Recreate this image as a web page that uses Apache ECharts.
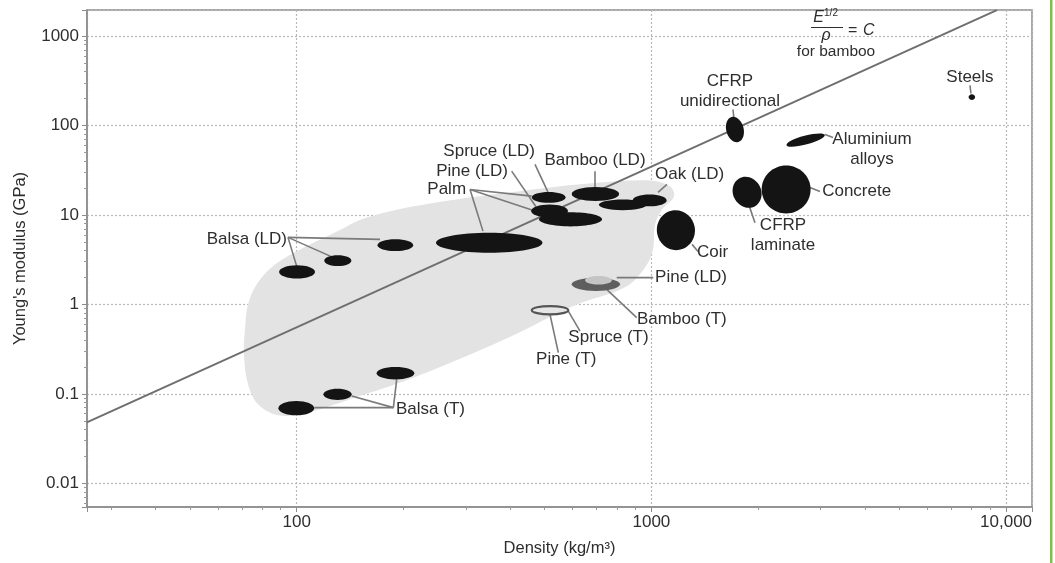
<!DOCTYPE html>
<html><head><meta charset="utf-8">
<script src="https://cdn.jsdelivr.net/npm/echarts@6/dist/echarts.min.js"></script>
<style>html,body{margin:0;padding:0;background:#fff}#c{width:1055px;height:563px}</style>
</head><body><div id="c"></div>
<script>
// ---------- data ----------
const materials = ['Balsa (LD) 1','Balsa (LD) 2','Balsa (LD) 3','Palm 1','Spruce (LD)','Pine (LD)','Palm 2','Bamboo (LD)','Oak','Oak (LD)','Coir','CFRP unidirectional','Aluminium alloys','CFRP laminate','Concrete','Steels','Bamboo (T)','Pine (LD) lower','Spruce (T)','Balsa (T) 1','Balsa (T) 2','Balsa (T) 3'];
const densityLow  = [89.2, 119.6, 169, 247, 460, 458, 482, 596, 711, 885, 1036, 1622, 2404, 1694, 2046, 7840, 596, 650, 460, 88.8, 118.9, 168];
const densityHigh = [112.6, 142.6, 213, 493, 573, 582, 726, 811, 970, 1104, 1327, 1824, 3083, 2046, 2811, 8180, 816, 774, 583, 112, 142.9, 214.6];
const modulusLow  = [1.95, 2.68, 3.94, 3.78, 13.7, 9.38, 7.44, 14.3, 11.3, 12.5, 4.04, 65, 57.8, 12.0, 10.4, 192, 1.41, 1.67, 0.773, 0.0575, 0.0853, 0.145];
const modulusHigh = [2.73, 3.53, 5.33, 6.33, 18.0, 13.1, 10.7, 20.5, 14.9, 16.9, 11.3, 125, 81.4, 26.7, 35.7, 224, 1.99, 2.08, 0.957, 0.083, 0.114, 0.199];

const envelopeDensity = [71.5, 72.9, 77.8, 86.9, 102.2, 126.6, 157.8, 237.6, 463.8, 716.3, 991.1, 1128.5, 1158.2, 1071.5, 1023.8, 1010.5, 959.4, 842.6, 609, 386.6, 218.4, 141.4, 105.5, 88.6, 77.8, 72.9, 71.0];
const envelopeModulus = [0.526, 1.0, 1.762, 2.799, 4.117, 6.213, 9.378, 13.44, 19.27, 23.07, 24.29, 20.82, 16.1, 11.52, 7.832, 4.117, 2.591, 1.549, 0.9745, 0.4064, 0.1568, 0.0868, 0.0605, 0.0575, 0.0763, 0.1277, 0.2763];

const guideDensity = [25.6, 9420];
const guideModulus = [0.048, 1950];

const xTicks = [100, 1000, 10000];
const xTickLabels = ['100', '1000', '10,000'];
const yTicks = [0.01, 0.1, 1, 10, 100, 1000];
const yTickLabels = ['0.01', '0.1', '1', '10', '100', '1000'];

const labelTexts = ['Balsa (LD)', 'Palm', 'Pine (LD)', 'Spruce (LD)', 'Bamboo (LD)', 'Oak (LD)', 'CFRP\nunidirectional', 'Steels', 'Aluminium\nalloys', 'Concrete', 'CFRP\nlaminate', 'Coir', 'Pine (LD)', 'Bamboo (T)', 'Spruce (T)', 'Pine (T)', 'Balsa (T)'];
const labelDensity = [93.9, 300.2, 394.2, 469.7, 693.4, 1024.5, 1665.6, 7911, 4188, 3030, 2350, 1345, 1024.5, 910.8, 583.3, 472.9, 190.5];
const labelModulus = [5.324, 19.27, 30.62, 51.23, 40.6, 28.35, 239.1, 343.8, 54.0, 18.3, 5.976, 3.81, 2.003, 0.68, 0.428, 0.2429, 0.0671];

const leaders = [
  [94.5, 5.608, 100.2, 2.591], [94.5, 5.608, 126.6, 3.351], [94.5, 5.608, 171.7, 5.324],
  [308.1, 19.27, 335.1, 6.59], [308.1, 19.27, 459.7, 16.22], [308.1, 19.27, 469.7, 11.03],
  [403.7, 30.86, 474.9, 12.03], [469.7, 36.66, 511, 17.98], [693.4, 30.86, 693.4, 20.29],
  [1106.6, 21.92, 1043.8, 17.84], [1698.7, 150.9, 1709.7, 116.7], [7911, 279.9, 7962, 227.8],
  [3087, 79.3, 3251, 73.4], [2799, 20.29, 2988, 18.3], [1888, 12.54, 1959, 8.18],
  [1302, 4.683, 1353.6, 3.91], [798.5, 1.988, 1012.5, 1.988], [748.2, 1.471, 909, 0.7101],
  [583.1, 0.8416, 629.2, 0.503], [517.7, 0.7732, 546.6, 0.2886],
  [187.3, 0.0701, 191.4, 0.1452], [187.3, 0.0701, 142.9, 0.0945], [187.3, 0.0701, 112.1, 0.0701]
];

const formulaAnchor = [3148, 1245];

// ---------- styles ----------
const FONT = '"Liberation Sans", Arial, Helvetica, sans-serif';
const TXT = '#2e2e2e';
const tilt = { 'Coir': 10, 'CFRP unidirectional': 15, 'Aluminium alloys': 15, 'CFRP laminate': 30 };
const shapeStyle = {
  'Bamboo (T)': { fill: '#5e5e5e' },
  'Pine (LD) lower': { fill: '#c4c4c4' },
  'Spruce (T)': { fill: '#e6e6e6', stroke: '#555', lineWidth: 2.2 }
};
const labelAlign = ['right','right','right','right','center','left','center','center','center','left','center','left','left','left','left','left','left'];

function findLabel(v, ticks, labels) {
  for (let i = 0; i < ticks.length; i++) {
    if (Math.abs(Math.log10(v) - Math.log10(ticks[i])) < 1e-6) return labels[i];
  }
  return '';
}

const chart = echarts.init(document.getElementById('c'), null, { renderer: 'canvas' });

const ellipseData = materials.map((m, i) => [densityLow[i], densityHigh[i], modulusLow[i], modulusHigh[i]]);

const option = {
  animation: false,
  backgroundColor: '#fff',
  grid: { left: 87, right: 23, top: 10, bottom: 56, show: true, borderColor: '#8c8c8c', borderWidth: 1.5, containLabel: false },
  xAxis: {
    type: 'log', logBase: 10, min: 25.63, max: 11833,
    name: 'Density (kg/m³)', nameLocation: 'middle', nameGap: 33,
    nameTextStyle: { fontFamily: FONT, fontSize: 16.5, color: TXT },
    axisLine: { show: true, lineStyle: { color: '#8c8c8c', width: 1.5 } },
    axisTick: { show: true, length: 5, inside: false, lineStyle: { color: '#8c8c8c' } },
    minorTick: { show: true, splitNumber: 9, length: 3, lineStyle: { color: '#999' } },
    axisLabel: { fontFamily: FONT, fontSize: 17, color: TXT, margin: 7, showMinLabel: false, showMaxLabel: false,
      formatter: v => findLabel(v, xTicks, xTickLabels) },
    splitLine: { show: true, lineStyle: { type: [2, 2], color: '#b8b8b8', width: 1.2 } }
  },
  yAxis: {
    type: 'log', logBase: 10, min: 0.00543, max: 1953,
    name: "Young's modulus (GPa)", nameLocation: 'middle', nameGap: 58,
    nameTextStyle: { fontFamily: FONT, fontSize: 16.5, color: TXT },
    axisLine: { show: true, lineStyle: { color: '#8c8c8c', width: 1.5 } },
    axisTick: { show: true, length: 5, inside: false, lineStyle: { color: '#8c8c8c' } },
    minorTick: { show: true, splitNumber: 9, length: 3, lineStyle: { color: '#999' } },
    axisLabel: { fontFamily: FONT, fontSize: 17, color: TXT, margin: 8, showMinLabel: false, showMaxLabel: false,
      formatter: v => findLabel(v, yTicks, yTickLabels) },
    splitLine: { show: true, lineStyle: { type: [2, 2], color: '#b8b8b8', width: 1.2 } }
  },
  graphic: [
    { type: 'rect', left: 1050, top: 0, shape: { width: 2.5, height: 563 }, style: { fill: '#7dc242' }, silent: true }
  ],
  series: [
    { // wood envelope
      type: 'custom', z: 1, silent: true,
      data: envelopeDensity.map((d, i) => [d, envelopeModulus[i]]),
      renderItem: function (params, api) {
        if (params.dataIndex !== 0) return null;
        const pts = envelopeDensity.map((d, i) => api.coord([d, envelopeModulus[i]]));
        return { type: 'polygon', shape: { points: pts, smooth: 0.35 }, style: { fill: '#e3e3e3' } };
      }
    },
    { // E^1/2 / rho = C line
      type: 'line', z: 2, symbol: 'none', silent: true,
      data: guideDensity.map((d, i) => [d, guideModulus[i]]),
      lineStyle: { color: '#6f6f6f', width: 2 }
    },
    { // leader lines
      type: 'custom', z: 3, silent: true,
      data: leaders,
      renderItem: function (params, api) {
        const a = api.coord([api.value(0), api.value(1)]);
        const b = api.coord([api.value(2), api.value(3)]);
        return { type: 'line', shape: { x1: a[0], y1: a[1], x2: b[0], y2: b[1] }, style: { stroke: '#7a7a7a', lineWidth: 1.6 } };
      }
    },
    { // material ellipses
      type: 'custom', z: 4, silent: true,
      data: ellipseData,
      renderItem: function (params, api) {
        const i = params.dataIndex;
        const p0 = api.coord([api.value(0), api.value(2)]);
        const p1 = api.coord([api.value(1), api.value(3)]);
        const cx = (p0[0] + p1[0]) / 2, cy = (p0[1] + p1[1]) / 2;
        const hw = Math.abs(p1[0] - p0[0]) / 2, hh = Math.abs(p1[1] - p0[1]) / 2;
        const name = materials[i];
        const t = (tilt[name] || 0) * Math.PI / 180;
        let a = hw, b = hh;
        if (t) {
          const c = Math.cos(t) ** 2, s = Math.sin(t) ** 2, d = c - s;
          a = Math.sqrt(Math.max((hw * hw * c - hh * hh * s) / d, 2));
          b = Math.sqrt(Math.max((hh * hh * c - hw * hw * s) / d, 2));
        }
        const st = shapeStyle[name] || {};
        return {
          type: 'ellipse', x: cx, y: cy, rotation: t,
          shape: { cx: 0, cy: 0, rx: a, ry: b },
          style: { fill: st.fill || '#141414', stroke: st.stroke || null, lineWidth: st.lineWidth || 0 }
        };
      }
    },
    { // text labels
      type: 'custom', z: 5, silent: true,
      data: labelTexts.map((t, i) => [labelDensity[i], labelModulus[i]]),
      renderItem: function (params, api) {
        const i = params.dataIndex;
        const p = api.coord([api.value(0), api.value(1)]);
        return {
          type: 'text', x: p[0], y: p[1],
          style: { text: labelTexts[i], fill: TXT, font: '17px ' + FONT, align: labelAlign[i], verticalAlign: 'middle', lineHeight: 20 }
        };
      }
    },
    { // formula annotation
      type: 'custom', z: 5, silent: true,
      data: [formulaAnchor],
      renderItem: function (params, api) {
        const p = api.coord([api.value(0), api.value(1)]);
        return {
          type: 'group', x: p[0], y: p[1],
          children: [
            { type: 'text', x: -4, y: -2, style: { text: 'E', fill: TXT, font: 'italic 16px ' + FONT, align: 'right', verticalAlign: 'bottom' } },
            { type: 'text', x: -4, y: -19, style: { text: '1/2', fill: TXT, font: '10px ' + FONT, align: 'left', verticalAlign: 'top' } },
            { type: 'line', shape: { x1: -17, y1: 0, x2: 15, y2: 0 }, style: { stroke: TXT, lineWidth: 1.2 } },
            { type: 'text', x: -2, y: 8, style: { text: 'ρ', fill: TXT, font: 'italic 16px ' + FONT, align: 'center', verticalAlign: 'middle' } },
            { type: 'text', x: 20, y: 3, style: { text: '= ', fill: TXT, font: '16px ' + FONT, align: 'left', verticalAlign: 'middle' } },
            { type: 'text', x: 35, y: 3, style: { text: 'C', fill: TXT, font: 'italic 16px ' + FONT, align: 'left', verticalAlign: 'middle' } },
            { type: 'text', x: 8, y: 24, style: { text: 'for bamboo', fill: TXT, font: '15.5px ' + FONT, align: 'center', verticalAlign: 'middle' } }
          ]
        };
      }
    }
  ]
};
chart.setOption(option);
</script>
</body></html>
